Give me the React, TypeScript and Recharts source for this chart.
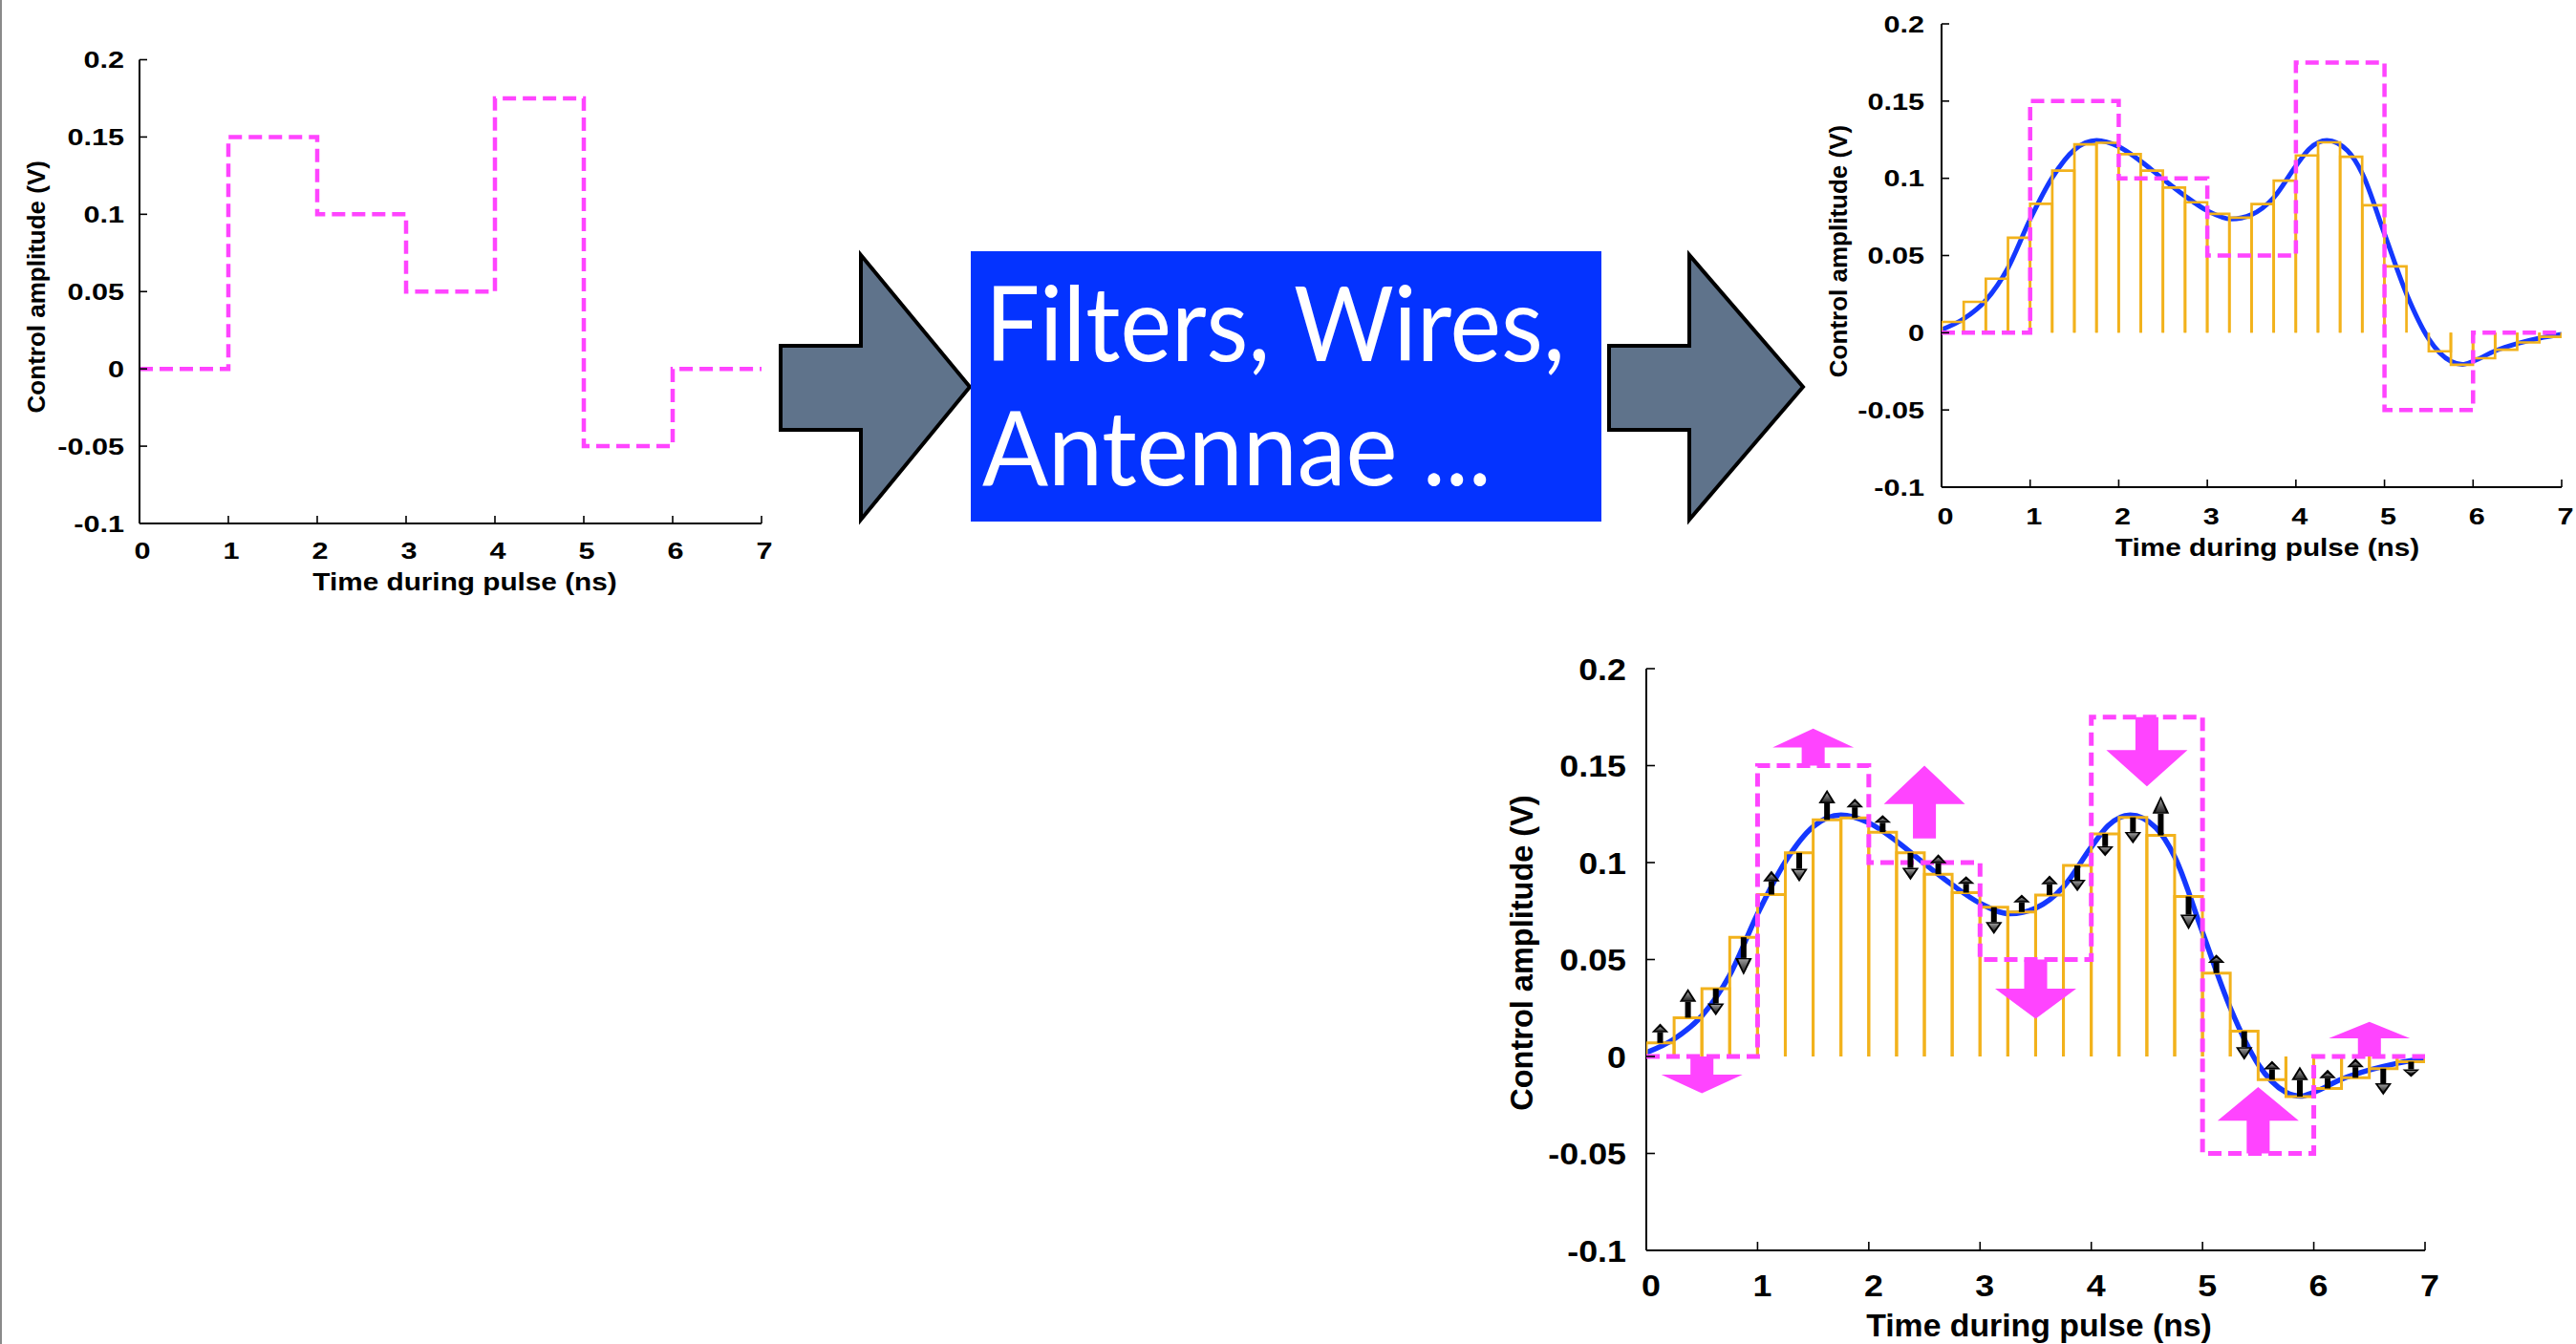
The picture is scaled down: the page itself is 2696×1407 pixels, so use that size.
import React from 'react';
import { ComposedChart, Line, Bar, XAxis, YAxis, ReferenceArea } from 'recharts';

// ---------------- data ----------------
const X_TICKS = [0, 1, 2, 3, 4, 5, 6, 7];
const X_TICK_LABELS = ['0', '1', '2', '3', '4', '5', '6', '7'];
const Y_TICKS = [-0.1, -0.05, 0, 0.05, 0.1, 0.15, 0.2];
const Y_TICK_LABELS = ['-0.1', '-0.05', '0', '0.05', '0.1', '0.15', '0.2'];
const X_TITLE = 'Time during pulse (ns)';
const Y_TITLE = 'Control amplitude (V)';
const BOX_LINE_1 = 'Filters, Wires,';
const BOX_LINE_2 = 'Antennae ...';

// piecewise-constant control (magenta, dashed)
const STEP_T = [0, 1, 2, 3, 4, 5, 6, 7];
const STEP_V = [0, 0.15, 0.1, 0.05, 0.175, -0.05, 0, 0];

// filtered response (blue curve)
const CURVE_T = [0, 0.25, 0.5, 0.75, 1, 1.25, 1.5, 1.75, 2, 2.25, 2.5, 2.75, 3, 3.27, 3.5, 3.75, 4, 4.15, 4.35, 4.58, 4.75, 5, 5.25, 5.5, 5.75, 5.88, 6, 6.25, 6.5, 6.75, 7];
const CURVE_V = [0.002, 0.009, 0.021, 0.042, 0.0735, 0.1005, 0.1185, 0.1245, 0.1205, 0.111, 0.0995, 0.0885, 0.079, 0.0736, 0.0765, 0.0875, 0.108, 0.119, 0.1245, 0.118, 0.103, 0.064, 0.025, -0.004, -0.0185, -0.0205, -0.0185, -0.0117, -0.007, -0.0035, -0.001];

// 0.25 ns bins (orange)
const BIN_T = [0.125, 0.375, 0.625, 0.875, 1.125, 1.375, 1.625, 1.875, 2.125, 2.375, 2.625, 2.875, 3.125, 3.375, 3.625, 3.875, 4.125, 4.375, 4.625, 4.875, 5.125, 5.375, 5.625, 5.875, 6.125, 6.375, 6.625, 6.875];
const BIN_V = [0.007, 0.02, 0.035, 0.0615, 0.0835, 0.105, 0.122, 0.123, 0.1157, 0.105, 0.094, 0.0845, 0.077, 0.0745, 0.0833, 0.0985, 0.1148, 0.1233, 0.114, 0.0825, 0.043, 0.013, -0.012, -0.0207, -0.0165, -0.011, -0.0063, -0.0027];
const BIN_V_TOP = [0.007, 0.02, 0.035, 0.0615, 0.0835, 0.105, 0.122, 0.123, 0.1157, 0.105, 0.094, 0.0845, 0.077, 0.0745, 0.0833, 0.0985, 0.1148, 0.1233, 0.114, 0.0825, 0.043, null, -0.012, -0.0207, -0.0165, -0.011, -0.0063, -0.0027];

// small black correction arrows: tip value (tail = bin value)
const NUDGE_TIP = [0.017, 0.035, 0.021, 0.042, 0.0958, 0.09, 0.1376, 0.133, 0.1245, 0.0909, 0.1043, 0.093, 0.063, 0.0835, 0.0933, 0.0851, 0.1032, 0.1097, 0.1344, 0.0654, 0.0526, -0.0019, -0.0022, -0.0052, -0.0068, -0.001, -0.02, -0.0106];

// big magenta arrows (one per 1 ns segment)
const BIG_T = [0.5, 1.5, 2.5, 3.5, 4.5, 5.5, 6.5];
const BIG_TAIL = [0, 0.15, 0.1125, 0.05, 0.175, -0.05, 0];
const BIG_HEAD = [-0.0093, 0.1593, 0.1302, 0.035, 0.158, -0.0331, 0.0093];
const BIG_TIP = [-0.019, 0.1691, 0.15, 0.0195, 0.1393, -0.0158, 0.0178];

const stepData = STEP_T.map((t, i) => ({ t, v: STEP_V[i] }));
const curveData = CURVE_T.map((t, i) => ({ t, v: CURVE_V[i] }));
const binsTop = BIN_T.map((t, i) => ({ t, v: BIN_V_TOP[i] }));
const binsBottom = BIN_T.map((t, i) => ({ t, v: BIN_V[i], nudge: [BIN_V[i], NUDGE_TIP[i]] }));

// ---------------- styles ----------------
const MAGENTA = '#ff44ff';
const ORANGE = '#f2b21c';
const BLUE = '#1438ff';
const FONT = '"Liberation Sans", Arial, Helvetica, sans-serif';
const BIG_HALF = 0.365; // half head width (ns)
const SHAFT_FRAC = 0.283;

const CHART_TL = { left: 0, top: 0, width: 830, height: 640, mTop: 62.5, mRight: 33, yAxisW: 146, xAxisH: 92, tickFs: 24.5, tickSx: 1.25, tickLen: 8, yGap: 16, xBase: 37, xDx: 3, titleFs: 25, titleSx: 1.19, xTitleBase: 69.5, xTitleDx: 15, yTitleFs: 26, yTitleOff: 108, yTitleDy: -5, magW: 4.5, dash: '14 7', barSw: 2.7, curveW: 5 };
const CHART_TR = { left: 1880, top: 0, width: 816, height: 600, mTop: 25, mRight: 15, yAxisW: 152, xAxisH: 90, tickFs: 24.5, tickSx: 1.25, tickLen: 8, yGap: 18, xBase: 39, xDx: 4, titleFs: 25, titleSx: 1.19, xTitleBase: 71.7, xTitleDx: 16.5, yTitleFs: 26, yTitleOff: 108, yTitleDy: -4.5, magW: 4.5, dash: '14 7', barSw: 2.7, curveW: 5 };
const CHART_B = { left: 1560, top: 660, width: 1000, height: 747, mTop: 40, mRight: 22, yAxisW: 163, xAxisH: 98, tickFs: 32, tickSx: 1.12, tickLen: 9, yGap: 21, xBase: 47.5, xDx: 5, titleFs: 32.5, titleSx: 1.04, xTitleBase: 89.6, xTitleDx: 3.5, yTitleFs: 32.5, yTitleOff: 131, yTitleDy: -7, magW: 5, dash: '14 7', barSw: 3, curveW: 5.5 };

type Cfg = typeof CHART_TL;

// ---------------- tick / label renderers ----------------
const xTick = (c: Cfg) => (p: any) => {
  const idx = X_TICKS.indexOf(p.payload.value);
  const lbl = idx >= 0 ? X_TICK_LABELS[idx] : String(p.payload.value);
  return (
    <g>
      <line x1={p.x} y1={p.y} x2={p.x} y2={p.y - c.tickLen} stroke="#000" strokeWidth={1.6} />
      <text transform={`translate(${p.x + c.xDx},${p.y + c.xBase}) scale(${c.tickSx},1)`} textAnchor="middle" fontFamily={FONT} fontWeight="bold" fontSize={c.tickFs} fill="#000">{lbl}</text>
    </g>
  );
};
const xTopTick = (c: Cfg) => (p: any) => (
  <line x1={p.x} y1={p.y} x2={p.x} y2={p.y + c.tickLen} stroke="#000" strokeWidth={1.6} />
);
const yTick = (c: Cfg) => (p: any) => {
  const idx = Y_TICKS.indexOf(p.payload.value);
  const lbl = idx >= 0 ? Y_TICK_LABELS[idx] : String(p.payload.value);
  return (
    <g>
      <line x1={p.x} y1={p.y} x2={p.x + c.tickLen} y2={p.y} stroke="#000" strokeWidth={1.6} />
      <text transform={`translate(${p.x - c.yGap},${p.y}) scale(${c.tickSx},1)`} dy="0.36em" textAnchor="end" fontFamily={FONT} fontWeight="bold" fontSize={c.tickFs} fill="#000">{lbl}</text>
    </g>
  );
};
const yRightTick = (c: Cfg) => (p: any) => (
  <line x1={p.x - c.tickLen} y1={p.y} x2={p.x} y2={p.y} stroke="#000" strokeWidth={1.6} />
);
const xTitle = (c: Cfg) => (p: any) => {
  const vb = p.viewBox || {};
  return (
    <text transform={`translate(${vb.x + vb.width / 2 + c.xTitleDx},${vb.y + c.xTitleBase}) scale(${c.titleSx},1)`} textAnchor="middle" fontFamily={FONT} fontWeight="bold" fontSize={c.titleFs} fill="#000">{X_TITLE}</text>
  );
};
const yTitle = (c: Cfg) => (p: any) => {
  const vb = p.viewBox || {};
  const cx = vb.x + vb.width - c.yTitleOff;
  const cy = vb.y + vb.height / 2 + c.yTitleDy;
  return (
    <text transform={`translate(${cx},${cy}) rotate(-90)`} dy="0.36em" textAnchor="middle" fontFamily={FONT} fontWeight="bold" fontSize={c.yTitleFs} fill="#000">{Y_TITLE}</text>
  );
};

function frameAxes(c: Cfg) {
  const axisLine = { stroke: '#000', strokeWidth: 2 };
  return [
    <XAxis key="xb" dataKey="t" type="number" domain={[0, 7]} allowDataOverflow ticks={X_TICKS} interval={0} height={c.xAxisH} tickSize={0} tickMargin={0} tickLine={false} axisLine={axisLine} tick={xTick(c)} label={xTitle(c)} />,
    <XAxis key="xt" xAxisId="top" orientation="top" dataKey="t" type="number" domain={[0, 7]} allowDataOverflow ticks={X_TICKS} interval={0} height={0} tickSize={0} tickMargin={0} tickLine={false} axisLine={axisLine} tick={xTopTick(c)} />,
    <YAxis key="yl" type="number" domain={[-0.1, 0.2]} allowDataOverflow ticks={Y_TICKS} interval={0} width={c.yAxisW} tickSize={0} tickMargin={0} tickLine={false} axisLine={axisLine} tick={yTick(c)} label={yTitle(c)} />,
    <YAxis key="yr" yAxisId="right" orientation="right" type="number" domain={[-0.1, 0.2]} allowDataOverflow ticks={Y_TICKS} interval={0} width={0} tickSize={0} tickMargin={0} tickLine={false} axisLine={axisLine} tick={yRightTick(c)} />,
  ];
}

// ---------------- shapes ----------------
const orangeShape = (sw: number) => (p: any) => {
  const { x, y, width, height, payload } = p;
  if (!payload || payload.v == null || width == null || y == null) return <g />;
  const y0 = Math.min(y, y + height);
  const y1 = Math.max(y, y + height);
  const x0 = x;
  const x1 = x + width;
  const d = payload.v >= 0
    ? `M${x0},${y1}L${x0},${y0}L${x1},${y0}L${x1},${y1}`
    : `M${x0},${y0}L${x0},${y1}L${x1},${y1}L${x1},${y0}`;
  return <path d={d} fill="none" stroke={ORANGE} strokeWidth={sw} />;
};

const nudgeShape = (p: any) => {
  const { x, y, width, height, payload } = p;
  if (!payload || !payload.nudge || width == null || y == null) return <g />;
  const [tail, tip] = payload.nudge;
  const up = tip > tail;
  const top = Math.min(y, y + height);
  const bot = Math.max(y, y + height);
  const len = bot - top;
  const cx = x + width / 2;
  const hl = Math.min(len, Math.max(8, len * 0.45));
  const hw = 8.8;
  const sh = 3;
  const tailY = up ? bot : top;
  const tipY = up ? top : bot;
  const baseY = up ? tipY + hl : tipY - hl;
  const s = up ? 1 : -1;
  const ib = baseY - s * 1.4;
  const it = tipY + s * 3.6;
  return (
    <g>
      <rect x={cx - sh} y={Math.min(tailY, baseY)} width={sh * 2} height={Math.abs(baseY - tailY)} fill="#000" />
      <polygon points={`${cx - hw},${baseY} ${cx + hw},${baseY} ${cx},${tipY}`} fill="#000" />
      <polygon points={`${cx - hw + 3.2},${ib} ${cx + hw - 3.2},${ib} ${cx},${it}`} fill="url(#nudgeGrad)" />
    </g>
  );
};

const bigArrowShape = (i: number) => (p: any) => {
  const { x, y, width, height } = p;
  if (x == null || y == null) return <g />;
  const tail = BIG_TAIL[i];
  const head = BIG_HEAD[i];
  const tip = BIG_TIP[i];
  const up = tip > tail;
  const top = Math.min(y, y + height);
  const bot = Math.max(y, y + height);
  const tailY = up ? bot : top;
  const tipY = up ? top : bot;
  const frac = (head - tail) / (tip - tail);
  const baseY = tailY + (tipY - tailY) * frac;
  const cx = x + width / 2;
  const sh = (width * SHAFT_FRAC) / 2;
  const pts = [
    [cx - sh, tailY], [cx - sh, baseY], [x, baseY], [cx, tipY], [x + width, baseY], [cx + sh, baseY], [cx + sh, tailY],
  ].map((q) => q.join(',')).join(' ');
  return <polygon points={pts} fill={MAGENTA} />;
};

// ---------------- charts ----------------
function TopLeftChart() {
  const c = CHART_TL;
  return (
    <div style={{ position: 'absolute', left: c.left, top: c.top }}>
      <ComposedChart width={c.width} height={c.height} data={stepData} margin={{ top: c.mTop, right: c.mRight, bottom: 0, left: 0 }}>
        {frameAxes(c)}
        <Line dataKey="v" type="stepAfter" stroke={MAGENTA} strokeWidth={c.magW} strokeDasharray={c.dash} dot={false} activeDot={false} isAnimationActive={false} />
      </ComposedChart>
    </div>
  );
}

function TopRightChart() {
  const c = CHART_TR;
  return (
    <div style={{ position: 'absolute', left: c.left, top: c.top }}>
      <ComposedChart width={c.width} height={c.height} data={binsTop} barCategoryGap={0} barGap={0} margin={{ top: c.mTop, right: c.mRight, bottom: 0, left: 0 }}>
        {frameAxes(c)}
        <XAxis xAxisId="bars" dataKey="t" type="number" domain={[0, 7]} allowDataOverflow hide />
        <Line data={curveData} dataKey="v" type="monotone" stroke={BLUE} strokeWidth={c.curveW} dot={false} activeDot={false} isAnimationActive={false} zIndex={400} />
        <Bar xAxisId="bars" dataKey="v" shape={orangeShape(c.barSw)} isAnimationActive={false} zIndex={500} />
        <Line data={stepData} dataKey="v" type="stepAfter" stroke={MAGENTA} strokeWidth={c.magW} strokeDasharray={c.dash} dot={false} activeDot={false} isAnimationActive={false} zIndex={700} />
      </ComposedChart>
    </div>
  );
}

function BottomChart() {
  const c = CHART_B;
  return (
    <div style={{ position: 'absolute', left: c.left, top: c.top }}>
      <ComposedChart width={c.width} height={c.height} data={binsBottom} barCategoryGap={0} barGap={0} margin={{ top: c.mTop, right: c.mRight, bottom: 0, left: 0 }}>
        {frameAxes(c)}
        <XAxis xAxisId="bars" dataKey="t" type="number" domain={[0, 7]} allowDataOverflow hide />
        <XAxis xAxisId="arr" dataKey="t" type="number" domain={[0, 7]} allowDataOverflow hide />
        <Line data={curveData} dataKey="v" type="monotone" stroke={BLUE} strokeWidth={c.curveW} dot={false} activeDot={false} isAnimationActive={false} zIndex={400} />
        <Bar xAxisId="bars" dataKey="v" shape={orangeShape(c.barSw)} isAnimationActive={false} zIndex={500} />
        <Line data={stepData} dataKey="v" type="stepAfter" stroke={MAGENTA} strokeWidth={c.magW} strokeDasharray={c.dash} dot={false} activeDot={false} isAnimationActive={false} zIndex={700} />
        <Bar xAxisId="arr" dataKey="nudge" shape={nudgeShape} isAnimationActive={false} zIndex={900} />
        {BIG_T.map((t, i) => (
          <ReferenceArea key={`big${i}`} x1={t - BIG_HALF} x2={t + BIG_HALF} y1={BIG_TAIL[i]} y2={BIG_TIP[i]} shape={bigArrowShape(i)} zIndex={1000} />
        ))}
      </ComposedChart>
    </div>
  );
}

function Decor() {
  const arrowFill = '#5f738b';
  return (
    <svg width={2696} height={1407} style={{ position: 'absolute', left: 0, top: 0 }}>
      <defs>
        <linearGradient id="nudgeGrad" x1="0" y1="0" x2="0" y2="1">
          <stop offset="0" stopColor="#9a9a9a" />
          <stop offset="1" stopColor="#2a2a2a" />
        </linearGradient>
        <filter id="grain" x="0" y="0" width="100%" height="100%">
          <feTurbulence type="fractalNoise" baseFrequency="0.08" numOctaves="2" seed="3" />
          <feColorMatrix type="matrix" values="0 0 0 0 0.37  0 0 0 0 0.45  0 0 0 0 0.55  0 0 0 0.35 0" />
          <feComposite in2="SourceGraphic" operator="in" />
        </filter>
      </defs>
      <line x1={1} y1={0} x2={1} y2={1407} stroke="#8a8a8a" strokeWidth={2} />
      <polygon points="817,362 901,362 901,267 1015,405 901,544 901,450 817,450" fill={arrowFill} stroke="#000" strokeWidth={4} strokeLinejoin="miter" />
      <polygon points="1684,362 1768,362 1768,267 1887,405 1768,544 1768,450 1684,450" fill={arrowFill} stroke="#000" strokeWidth={4} strokeLinejoin="miter" />
      <rect x={1016} y={263} width={660} height={283} fill="#0433ff" />
      <text x={1031} y={378} fontFamily='Lato, "Open Sans", sans-serif' fontSize={108} fill="#fff" textLength={607} lengthAdjust="spacingAndGlyphs">{BOX_LINE_1}</text>
      <text x={1028} y={508} fontFamily='Lato, "Open Sans", sans-serif' fontSize={108} fill="#fff" textLength={533} lengthAdjust="spacingAndGlyphs">{BOX_LINE_2}</text>
    </svg>
  );
}

export default function App() {
  return (
    <div style={{ position: 'absolute', left: 0, top: 0, width: 2696, height: 1407, background: '#fff', overflow: 'hidden' }}>
      <Decor />
      <TopLeftChart />
      <TopRightChart />
      <BottomChart />
    </div>
  );
}
